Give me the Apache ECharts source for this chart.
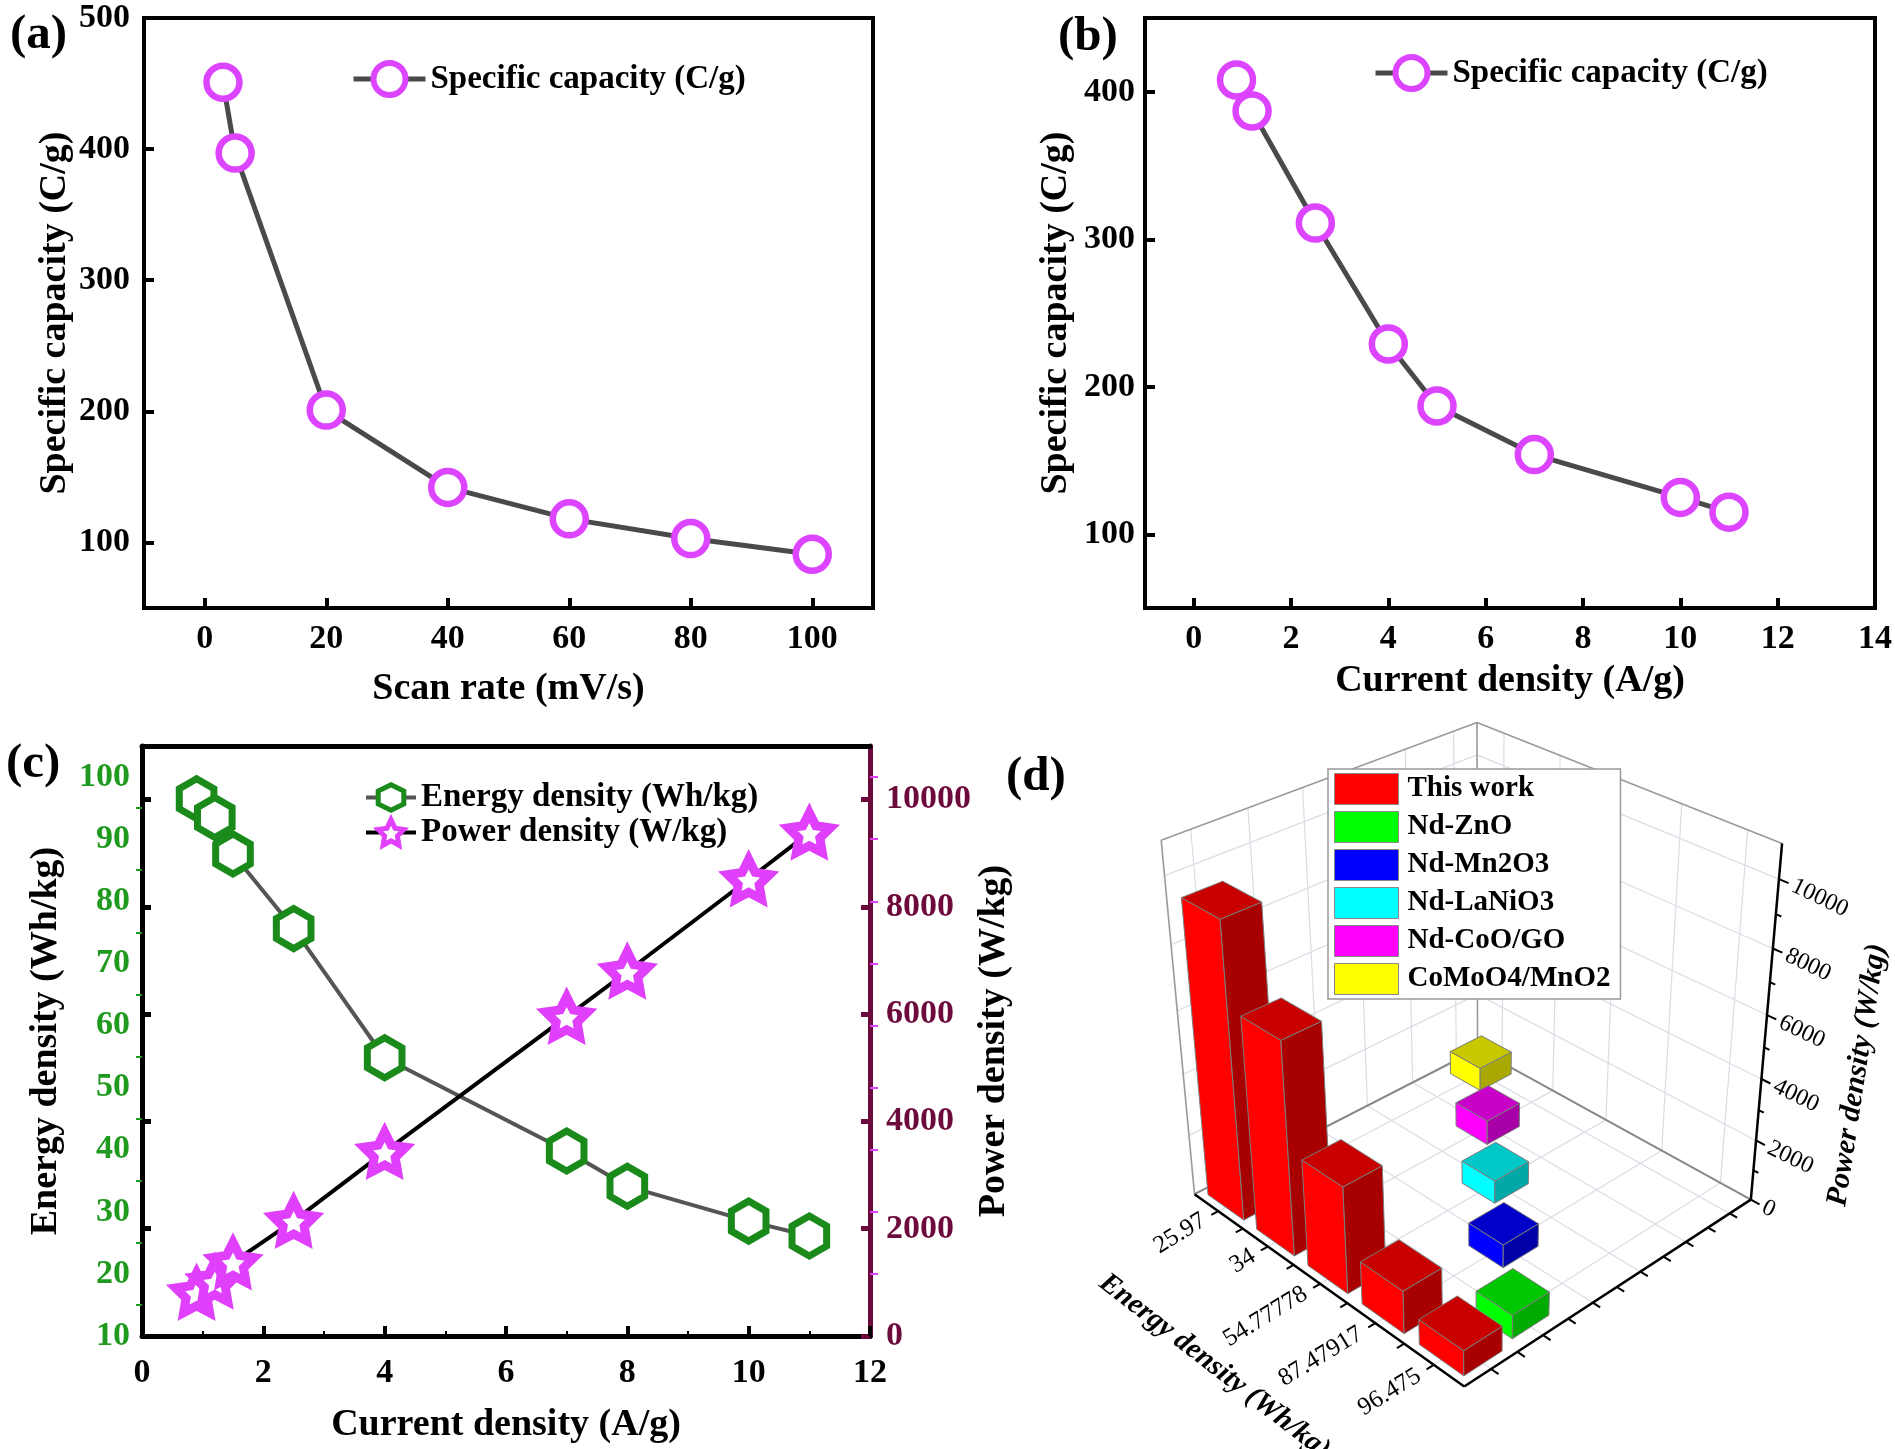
<!DOCTYPE html>
<html><head><meta charset="utf-8">
<script src="https://cdn.jsdelivr.net/npm/echarts@6/dist/echarts.min.js"></script>
<style>html,body{margin:0;padding:0;background:#fff}#c{width:1895px;height:1449px}</style>
</head><body><div id="c"></div><script>
// ---------------- data ----------------
const scanRateA = [3, 5, 20, 40, 60, 80, 100];
const capacityA = [451, 397, 201, 142, 118, 103, 91];
const currentB = [0.88, 1.2, 2.5, 4, 5, 7, 10, 11];
const capacityB = [408, 387, 311, 229, 187, 154, 125, 115];
const currentC = [0.9, 1.2, 1.5, 2.5, 4, 7, 8, 10, 11];
const energyC = [96.5, 93.5, 87.6, 75.6, 54.8, 39.8, 34.1, 28.5, 26.1];
const powerC = [807, 1016, 1374, 2146, 3432, 5953, 6796, 8516, 9385];
const ticksAx = [0, 20, 40, 60, 80, 100];
const ticksAy = [100, 200, 300, 400, 500];
const ticksBx = [0, 2, 4, 6, 8, 10, 12, 14];
const ticksBy = [100, 200, 300, 400];
const ticksCenergy = [10, 20, 30, 40, 50, 60, 70, 80, 90, 100];
const ticksCenergyMirror = [20, 30, 40, 50, 60, 70, 80, 90, 100];
const ticksCpower = [0, 2000, 4000, 6000, 8000, 10000];
const energyCatsD = ['25.97', '34', '54.77778', '87.47917', '96.475'];
const materialsD = ['This work', 'Nd-ZnO', 'Nd-Mn2O3', 'Nd-LaNiO3', 'Nd-CoO/GO', 'CoMoO4/MnO2'];
const thisWorkPowerD = [9385, 6796, 3432, 1374, 807];
const othersEnergyIdxD = [4, 3, 2, 1, 0];
const othersPowerD = [760, 760, 760, 820, 800];
const powerTicksD = [0, 2000, 4000, 6000, 8000, 10000];
const powerMinorD = [1000, 3000, 5000, 7000, 9000];

// ---------------- styles ----------------
const FONT = 'Liberation Serif';
const MAG = '#dd44ff';
const GREEN_LBL = '#1f9a1f';
const MAROON = '#6b0a3b';
const colorsD = {
  'This work': ['#ff0000', '#a80000', '#c80000'],
  'Nd-ZnO': ['#00ff00', '#00aa00', '#00c800'],
  'Nd-Mn2O3': ['#0000ff', '#0000a8', '#0000c8'],
  'Nd-LaNiO3': ['#00ffff', '#00a8a8', '#00c8c8'],
  'Nd-CoO/GO': ['#ff00ff', '#a800a8', '#c800c8'],
  'CoMoO4/MnO2': ['#ffff00', '#a8a800', '#c8c800']
};
const PMAX = 11000;
// panel (d) box corners (world u,v,w -> hidden-axis units)
const VIEW = [
  [0, 0, 0, 104, 493], [1, 0, 0, 375, 687], [1, 1, 0, 660.5, 499.5], [0, 1, 0, 387.7, 350],
  [0, 0, 1, 71, 141], [0, 1, 1, 387.5, 22], [1, 1, 1, 691.7, 143]
];

function gauss(A, b) {
  const n = b.length;
  for (let i = 0; i < n; i++) {
    let p = i;
    for (let r = i + 1; r < n; r++) if (Math.abs(A[r][i]) > Math.abs(A[p][i])) p = r;
    [A[i], A[p]] = [A[p], A[i]]; [b[i], b[p]] = [b[p], b[i]];
    for (let r = i + 1; r < n; r++) {
      const f = A[r][i] / A[i][i];
      for (let c = i; c < n; c++) A[r][c] -= f * A[i][c];
      b[r] -= f * b[i];
    }
  }
  const x = new Array(n).fill(0);
  for (let i = n - 1; i >= 0; i--) {
    let s = b[i];
    for (let c = i + 1; c < n; c++) s -= A[i][c] * x[c];
    x[i] = s / A[i][i];
  }
  return x;
}
function fitCamera(pts) {
  const n = 11, S = 100;
  const A = Array.from({ length: n }, () => new Array(n).fill(0)), b = new Array(n).fill(0);
  pts.forEach(([X, Y, Z, px, py]) => {
    const x = px / S, y = py / S;
    [[[X, Y, Z, 1, 0, 0, 0, 0, -x * X, -x * Y, -x * Z], x], [[0, 0, 0, 0, X, Y, Z, 1, -y * X, -y * Y, -y * Z], y]]
      .forEach(([r, t]) => { for (let i = 0; i < n; i++) { b[i] += r[i] * t; for (let j = 0; j < n; j++) A[i][j] += r[i] * r[j]; } });
  });
  const m = gauss(A, b);
  return (u, v, w) => {
    const d = m[8] * u + m[9] * v + m[10] * w + 1;
    return [S * (m[0] * u + m[1] * v + m[2] * w + m[3]) / d, S * (m[4] * u + m[5] * v + m[6] * w + m[7]) / d];
  };
}
const project = fitCamera(VIEW);
const NE = energyCatsD.length, NR = materialsD.length;

function frameBack(params, api) {
  const P = (u, v, w) => api.coord(project(u, v, w));
  const ch = [];
  const ln = (a, b, stroke, lw) => ch.push({ type: 'line', shape: { x1: a[0], y1: a[1], x2: b[0], y2: b[1] }, style: { stroke, lineWidth: lw } });
  const G = '#dcdce6';
  for (let j = 0; j < NR; j++) { const v = (j + 0.5) / NR; ln(P(0, v, 0), P(0, v, 1), G, 1.2); ln(P(0, v, 0), P(1, v, 0), G, 1.2); }
  for (let i = 0; i < NE; i++) { const u = (i + 0.5) / NE; ln(P(u, 1, 0), P(u, 1, 1), G, 1.2); ln(P(u, 0, 0), P(u, 1, 0), G, 1.2); }
  powerTicksD.slice(1).forEach(t => { const w = t / PMAX; ln(P(0, 0, w), P(0, 1, w), G, 1.2); ln(P(0, 1, w), P(1, 1, w), G, 1.2); });
  const E = '#9a9a9a';
  ln(P(0, 0, 0), P(0, 0, 1), E, 1.6); ln(P(0, 0, 1), P(0, 1, 1), E, 1.6); ln(P(0, 1, 1), P(1, 1, 1), E, 1.6);
  ln(P(0, 1, 0), P(0, 1, 1), E, 1.6); ln(P(0, 0, 0), P(0, 1, 0), '#888', 2); ln(P(0, 1, 0), P(1, 1, 0), '#888', 2);
  return { type: 'group', children: ch };
}
function frameFront(params, api) {
  const P = (u, v, w) => api.coord(project(u, v, w));
  const ch = [];
  const ln = (a, b, stroke, lw) => ch.push({ type: 'line', shape: { x1: a[0], y1: a[1], x2: b[0], y2: b[1] }, style: { stroke, lineWidth: lw } });
  const tx = (p, text, rot, align, size, extra) => ch.push({
    type: 'text', x: p[0], y: p[1], rotation: rot,
    style: Object.assign({ text, fill: '#000', fontFamily: FONT, fontSize: size, align, verticalAlign: 'middle', textAlign: align, textVerticalAlign: 'middle' }, extra || {})
  });
  ln(P(0, 0, 0), P(1, 0, 0), '#000', 2.5);
  ln(P(1, 0, 0), P(1, 1, 0), '#000', 2.5);
  ln(P(1, 1, 0), P(1, 1, 1), '#000', 2.5);
  for (let k = 1; k < 2 * NE; k++) ln(P(k / (2 * NE), 0, 0), P(k / (2 * NE), -0.022, 0), '#000', 2);
  for (let k = 1; k < 2 * NR; k++) ln(P(1, k / (2 * NR), 0), P(1.024, k / (2 * NR), 0), '#000', 2);
  powerTicksD.forEach(t => ln(P(1, 1, t / PMAX), P(1.028, 1, t / PMAX), '#000', 2));
  powerMinorD.forEach(t => ln(P(1, 1, t / PMAX), P(1.016, 1, t / PMAX), '#000', 2));
  energyCatsD.forEach((c, i) => tx(P((i + 0.5) / NE, -0.045, 0), c, 0.55, 'right', 25));
  powerTicksD.forEach(t => tx(P(1.04, 1, t / PMAX), String(t), -0.45, 'left', 24));
  tx(P(0.56, -0.36, 0), 'Energy density (Wh/kg)', -0.66, 'center', 29, { fontWeight: 'bold', fontStyle: 'italic' });
  tx(P(1.27, 1, 0.5), 'Power density (W/kg)', 1.42, 'center', 30, { fontWeight: 'bold', fontStyle: 'italic' });
  return { type: 'group', children: ch };
}
function barRenderer(name, halfU) {
  const [cf, cs, ct] = colorsD[name];
  return function (params, api) {
    const ci = api.value(0), ri = api.value(1), w = api.value(2) / PMAX;
    const uc = (ci + 0.5) / NE, vc = (ri + 0.5) / NR, hu = halfU / NE, hv = 0.36 / NR;
    const u0 = uc - hu, u1 = uc + hu, v0 = vc - hv, v1 = vc + hv;
    const P = (u, v, z) => api.coord(project(u, v, z));
    const poly = (pts, fill) => ({ type: 'polygon', shape: { points: pts }, style: { fill, stroke: '#7c7c7c', lineWidth: 1 } });
    return {
      type: 'group', children: [
        poly([P(u0, v0, 0), P(u1, v0, 0), P(u1, v0, w), P(u0, v0, w)], cf),
        poly([P(u1, v0, 0), P(u1, v1, 0), P(u1, v1, w), P(u1, v0, w)], cs),
        poly([P(u0, v0, w), P(u1, v0, w), P(u1, v1, w), P(u0, v1, w)], ct)
      ]
    };
  };
}

const lblStyle = { fontFamily: FONT, fontWeight: 'bold', fontSize: 34, color: '#000' };
const nameStyle = { fontFamily: FONT, fontWeight: 'bold', fontSize: 38, color: '#000' };
const blackLine = w => ({ onZero: false, lineStyle: { color: '#000', width: w } });
const plain = v => String(v);

const seriesD = [];
const drawOrder = [5, 4, 3, 2, 1];
drawOrder.forEach((k, idx) => {
  const name = materialsD[k];
  seriesD.push({
    type: 'custom', name, xAxisIndex: 4, yAxisIndex: 6, z: 3 + idx * 0.01, clip: false, silent: true,
    itemStyle: { color: colorsD[name][0] },
    data: [[othersEnergyIdxD[k - 1], k, othersPowerD[k - 1]]],
    renderItem: barRenderer(name, 0.3)
  });
});
seriesD.push({
  type: 'custom', name: 'This work', xAxisIndex: 4, yAxisIndex: 6, z: 3.5, clip: false, silent: true,
  itemStyle: { color: colorsD['This work'][0] },
  data: thisWorkPowerD.map((p, i) => [i, 0, p]),
  renderItem: barRenderer('This work', 0.37)
});

const legendText = { fontFamily: FONT, fontWeight: 'bold', fontSize: 33, color: '#000' };
const option = {
  animation: false,
  backgroundColor: '#fff',
  title: [
    { text: '(a)', left: 10, top: 11 }, { text: '(b)', left: 1058, top: 13 },
    { text: '(c)', left: 6, top: 740 }, { text: '(d)', left: 1006, top: 753 }
  ].map(t => Object.assign(t, { padding: 0, textStyle: { fontFamily: FONT, fontWeight: 'bold', fontSize: 49, color: '#000' } })),
  legend: [
    { data: ['Specific capacity (C/g)'], left: 346, top: 55, itemWidth: 72, itemHeight: 40, selectedMode: false, textStyle: legendText,
      lineStyle: { width: 5 }, itemStyle: { borderWidth: 6 } },
    { data: ['Specific capacity (C/g)'], left: 1368, top: 49, itemWidth: 72, itemHeight: 40, selectedMode: false, textStyle: legendText,
      lineStyle: { width: 5 }, itemStyle: { borderWidth: 6 } },
    { data: ['Energy density (Wh/kg)', 'Power density (W/kg)'], orient: 'vertical', left: 359, top: 776, itemGap: 2, itemWidth: 50, itemHeight: 32,
      selectedMode: false, textStyle: legendText, lineStyle: { width: 4 }, itemStyle: { borderWidth: 5 } },
    { data: materialsD, orient: 'vertical', left: 1328, top: 769, icon: 'rect', itemWidth: 64, itemHeight: 31, itemGap: 6, padding: [4, 10, 4, 6],
      backgroundColor: '#fff', borderColor: '#999', borderWidth: 1.5, selectedMode: false, itemStyle: { borderColor: '#888', borderWidth: 1 },
      textStyle: { fontFamily: FONT, fontWeight: 'bold', fontSize: 29, color: '#000', padding: [0, 0, 0, 4] } }
  ],
  grid: [
    { left: 144, top: 18, width: 729, height: 590, show: true, borderColor: '#000', borderWidth: 4, backgroundColor: 'transparent' },
    { left: 1145, top: 18, width: 732, height: 590, show: true, borderColor: '#000', borderWidth: 4, backgroundColor: 'transparent' },
    { left: 142, top: 746, width: 728, height: 590 },
    { left: 1090, top: 700, width: 805, height: 749, show: false }
  ],
  xAxis: [
    { gridIndex: 0, type: 'value', min: -10, max: 110, axisLine: blackLine(4), splitLine: { show: false },
      axisTick: { inside: true, length: 10, customValues: ticksAx, lineStyle: { width: 4, color: '#000' } },
      axisLabel: Object.assign({ customValues: ticksAx, margin: 14 }, lblStyle),
      name: 'Scan rate (mV/s)', nameLocation: 'middle', nameGap: 62, nameTextStyle: nameStyle },
    { gridIndex: 1, type: 'value', min: -1, max: 14, axisLine: blackLine(4), splitLine: { show: false },
      axisTick: { inside: true, length: 10, customValues: ticksBx, lineStyle: { width: 4, color: '#000' } },
      axisLabel: Object.assign({ customValues: ticksBx, margin: 14 }, lblStyle),
      name: 'Current density (A/g)', nameLocation: 'middle', nameGap: 54, nameTextStyle: nameStyle },
    { gridIndex: 2, type: 'value', min: 0, max: 12, interval: 2, axisLine: blackLine(5), splitLine: { show: false },
      axisTick: { inside: true, length: 10, lineStyle: { width: 4, color: '#000' } },
      minorTick: { show: true, splitNumber: 2, length: 5, lineStyle: { width: 2, color: '#000' } },
      axisLabel: Object.assign({ margin: 20 }, lblStyle),
      name: 'Current density (A/g)', nameLocation: 'middle', nameGap: 70, nameTextStyle: nameStyle },
    { gridIndex: 2, type: 'value', position: 'top', min: 0, max: 12, axisLine: blackLine(5), axisTick: { show: false }, axisLabel: { show: false }, splitLine: { show: false } },
    { gridIndex: 3, type: 'value', min: 0, max: 805, show: false }
  ],
  yAxis: [
    { gridIndex: 0, type: 'value', min: 50, max: 500, axisLine: blackLine(4), splitLine: { show: false },
      axisTick: { inside: true, length: 10, customValues: ticksAy, lineStyle: { width: 4, color: '#000' } },
      axisLabel: Object.assign({ customValues: ticksAy, margin: 14 }, lblStyle),
      name: 'Specific capacity (C/g)', nameLocation: 'middle', nameGap: 70, nameRotate: 90, nameTextStyle: nameStyle },
    { gridIndex: 1, type: 'value', min: 50, max: 450, axisLine: blackLine(4), splitLine: { show: false },
      axisTick: { inside: true, length: 10, customValues: ticksBy, lineStyle: { width: 4, color: '#000' } },
      axisLabel: Object.assign({ customValues: ticksBy, margin: 10 }, lblStyle),
      name: 'Specific capacity (C/g)', nameLocation: 'middle', nameGap: 70, nameRotate: 90, nameTextStyle: nameStyle },
    { gridIndex: 2, type: 'value', position: 'left', min: 10, max: 105, interval: 10, axisLine: blackLine(5), splitLine: { show: false },
      axisTick: { show: false, inside: false },
      minorTick: { show: true, splitNumber: 2, length: 6, lineStyle: { width: 2, color: GREEN_LBL } },
      axisLabel: Object.assign({}, lblStyle, { customValues: ticksCenergy, margin: 12, color: GREEN_LBL }),
      name: 'Energy density (Wh/kg)', nameLocation: 'middle', nameGap: 77, nameRotate: 90, nameTextStyle: nameStyle },
    { gridIndex: 2, type: 'value', position: 'left', min: 0, max: PMAX, axisLine: { show: false, onZero: false }, splitLine: { show: false },
      axisTick: { inside: true, length: 9, customValues: ticksCpower, lineStyle: { width: 5, color: '#000' } }, axisLabel: { show: false } },
    { gridIndex: 2, type: 'value', position: 'right', min: 0, max: PMAX, axisLine: { onZero: false, lineStyle: { color: MAROON, width: 5 } }, splitLine: { show: false },
      axisTick: { inside: true, length: 9, customValues: ticksCpower, lineStyle: { width: 5, color: MAROON } },
      axisLabel: Object.assign({}, lblStyle, { customValues: ticksCpower, margin: 16, color: MAROON, formatter: plain }),
      name: 'Power density (W/kg)', nameLocation: 'middle', nameGap: 90, nameRotate: 90, nameTextStyle: nameStyle },
    { gridIndex: 2, type: 'value', position: 'right', min: 10, max: 105, axisLine: { show: false, onZero: false }, splitLine: { show: false },
      axisTick: { inside: false, length: 8, customValues: ticksCenergyMirror, lineStyle: { width: 2, color: '#e040fb' } }, axisLabel: { show: false } },
    { gridIndex: 3, type: 'value', min: 0, max: 749, inverse: true, show: false }
  ],
  series: [
    { type: 'line', name: 'Specific capacity (C/g)', xAxisIndex: 0, yAxisIndex: 0, data: scanRateA.map((x, i) => [x, capacityA[i]]),
      symbol: 'circle', symbolSize: 33, itemStyle: { color: '#fff', borderColor: MAG, borderWidth: 6.5 }, lineStyle: { color: '#4a4a4a', width: 5 } },
    { type: 'line', name: 'Specific capacity (C/g)', xAxisIndex: 1, yAxisIndex: 1, data: currentB.map((x, i) => [x, capacityB[i]]),
      symbol: 'circle', symbolSize: 33, itemStyle: { color: '#fff', borderColor: MAG, borderWidth: 6.5 }, lineStyle: { color: '#4a4a4a', width: 5 } },
    { type: 'line', name: 'Energy density (Wh/kg)', xAxisIndex: 2, yAxisIndex: 2, data: currentC.map((x, i) => [x, energyC[i]]),
      symbol: 'path://M0,-1 L0.866,-0.5 L0.866,0.5 L0,1 L-0.866,0.5 L-0.866,-0.5 Z', symbolKeepAspect: true, symbolSize: 40,
      itemStyle: { color: '#fff', borderColor: '#1a8a1a', borderWidth: 7 }, lineStyle: { color: '#555', width: 4 } },
    { type: 'line', name: 'Power density (W/kg)', xAxisIndex: 2, yAxisIndex: 4, data: currentC.map((x, i) => [x, powerC[i]]),
      symbol: 'path://M0,-1 L0.294,-0.405 L0.951,-0.309 L0.476,0.155 L0.588,0.809 L0,0.5 L-0.588,0.809 L-0.476,0.155 L-0.951,-0.309 L-0.294,-0.405 Z',
      symbolKeepAspect: true, symbolSize: 42, itemStyle: { color: '#fff', borderColor: '#e040fb', borderWidth: 9 }, lineStyle: { color: '#000', width: 4 } },
    { type: 'custom', name: 'frameBack', xAxisIndex: 4, yAxisIndex: 6, z: 1, clip: false, silent: true, data: [[0, 0]], renderItem: frameBack },
    ...seriesD,
    { type: 'custom', name: 'frameFront', xAxisIndex: 4, yAxisIndex: 6, z: 2, clip: false, silent: true, data: [[0, 0]], renderItem: frameFront }
  ]
};
const chart = echarts.init(document.getElementById('c'), null, { renderer: 'canvas', width: 1895, height: 1449 });
chart.setOption(option);
</script></body></html>
